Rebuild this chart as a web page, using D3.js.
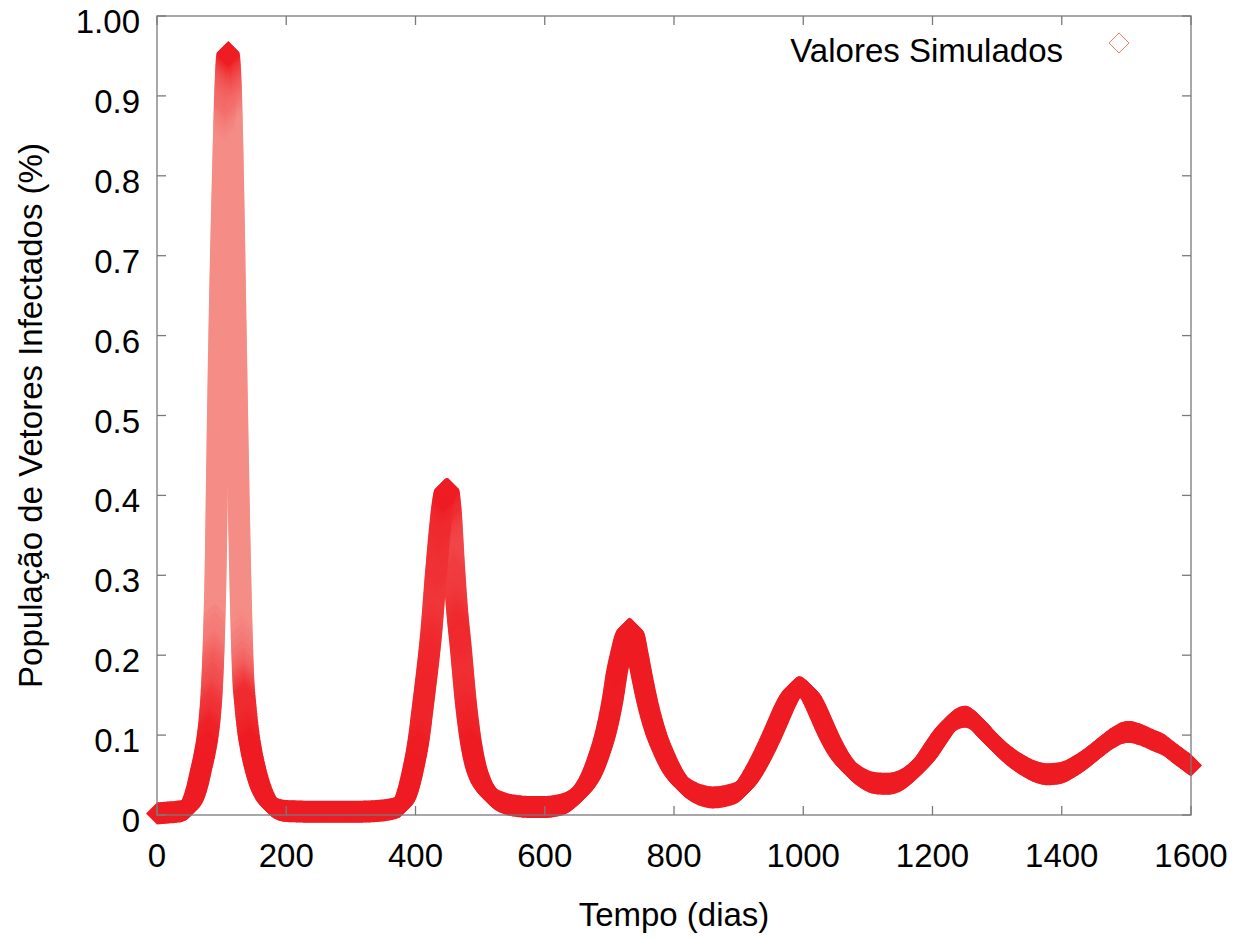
<!DOCTYPE html>
<meta charset="utf-8">
<title>Vetores Infectados</title>
<style>
html, body {
  margin: 0;
  padding: 0;
  background: #fff;
}
svg {
  display: block;
}
text {
  font-family: "Liberation Sans", Arial, sans-serif;
  font-size: 33px;
  fill: #000;
}
.frame line, .frame rect {
  stroke: #7a7a7a;
  stroke-width: 1.3;
  fill: none;
}
</style>
<body>
<svg width="1245" height="940"></svg>
<script src="https://d3js.org/d3.v7.min.js"></script>
<script>

// values (time in days, infected fraction)
var tempo = [
  0, 15, 30, 42, 50, 56, 62, 68, 74, 78, 82, 85, 88, 91, 93, 96, 99, 102, 105, 108,
  110, 112, 115, 118, 121, 124, 127, 130, 133, 137, 141, 146, 152, 160, 170, 182, 200,
  250, 300, 340, 360, 376, 386, 396, 405, 412, 418, 424, 432, 438, 443, 447, 450,
  454, 460, 464, 470, 478, 485, 492, 500, 510, 522, 540, 560, 580, 600, 620, 635,
  648, 660, 672, 684, 695, 705, 712, 719, 725, 731, 737, 743, 750, 758, 771, 784,
  798, 812, 830, 845, 860, 880, 900, 912, 924, 936, 948, 960, 972, 983, 994, 1003,
  1010, 1018, 1028, 1039, 1055, 1073, 1090, 1110, 1130, 1150, 1170, 1190, 1205, 1223, 1240, 1251,
  1265, 1280, 1297, 1317, 1340, 1360, 1378, 1400, 1420, 1440, 1460, 1480, 1495, 1505,
  1520, 1540, 1557, 1575, 1590, 1600
];
var infectados = [
  0.002, 0.003, 0.004, 0.006, 0.011, 0.02, 0.035, 0.056, 0.078, 0.097, 0.125, 0.16, 0.22, 0.32, 0.43, 0.58, 0.70, 0.80, 0.89, 0.945,
  0.955, 0.945, 0.89, 0.78, 0.64, 0.50, 0.37, 0.26, 0.18, 0.135, 0.105, 0.08, 0.058, 0.036, 0.019, 0.009, 0.005,
  0.004, 0.004, 0.005, 0.007, 0.011, 0.025, 0.056, 0.095, 0.14, 0.18, 0.225, 0.306, 0.36, 0.395, 0.408, 0.408,
  0.385, 0.306, 0.26, 0.21, 0.14, 0.095, 0.065, 0.045, 0.031, 0.021, 0.014, 0.011, 0.010, 0.010, 0.012, 0.016,
  0.024, 0.034, 0.05, 0.075, 0.105, 0.144, 0.18, 0.206, 0.225, 0.233, 0.228, 0.205, 0.175, 0.144, 0.105, 0.078,
  0.055, 0.04, 0.029, 0.024, 0.022, 0.024, 0.03, 0.04, 0.055, 0.073, 0.093, 0.115, 0.137, 0.153, 0.16, 0.156,
  0.15, 0.138, 0.12, 0.10, 0.076, 0.058, 0.047, 0.04, 0.039, 0.043, 0.055, 0.072, 0.09, 0.11, 0.121, 0.123,
  0.117, 0.104, 0.09, 0.075, 0.062, 0.054, 0.051, 0.053, 0.061, 0.072, 0.085, 0.097, 0.103, 0.104,
  0.101, 0.094, 0.088, 0.077, 0.068, 0.062
];

var xTicks = [0, 200, 400, 600, 800, 1000, 1200, 1400, 1600];
var yTicks = [0, 0.1, 0.2, 0.3, 0.4, 0.5, 0.6, 0.7, 0.8, 0.9, 1.0];
var yTickLabels = ["0", "0.1", "0.2", "0.3", "0.4", "0.5", "0.6", "0.7", "0.8", "0.9", "1.00"];

var legendLabel = "Valores Simulados",
    xTitle = "Tempo (dias)",
    yTitle = "População de Vetores Infectados (%)";

var svg = d3.select("svg");

var plot = {left: 157, right: 1191, top: 16, bottom: 815};

var x = d3.scaleLinear().domain([0, 1600]).range([plot.left, plot.right]);
var y = d3.scaleLinear().domain([0, 1]).range([plot.bottom, plot.top]);

var red = "#ee1d23",
    pink = "#f58d87",
    half = 11,      // half diagonal of a diamond marker
    tickLen = 9;

function diamond(p, h) {
  h = h || half;
  return [[p[0] - h, p[1]], [p[0], p[1] - h], [p[0] + h, p[1]], [p[0], p[1] + h]];
}

// smooth curve through the data, then swept with the diamond marker
var line = d3.line()
    .x(function(d, i) { return x(tempo[i]); })
    .y(function(d) { return y(d); })
    .curve(d3.curveMonotoneX);

var guide = svg.append("path")
    .attr("d", line(infectados))
    .attr("fill", "none")
    .attr("stroke", "none");

var node = guide.node(),
    total = node.getTotalLength(),
    samples = [];
for (var s = 0; s <= total; s += 1.5) {
  var pt = node.getPointAtLength(s);
  samples.push([pt.x, pt.y]);
}
var last = node.getPointAtLength(total);
samples.push([last.x, last.y]);

// steep pieces are lighter, like the sparse markers of the original
var segs = d3.pairs(samples).map(function(pair) {
  var dx = Math.abs(pair[1][0] - pair[0][0]),
      dy = Math.abs(pair[1][1] - pair[0][1]),
      slope = dy / Math.max(dx, 0.001),
      k = Math.max(0, Math.min(1, (slope - 6) / 32));
  return {hull: d3.polygonHull(diamond(pair[0]).concat(diamond(pair[1]))), k: k};
});
segs.sort(function(a, b) { return b.k - a.k; });

var shade = d3.interpolateRgb(red, pink);

svg.append("g")
    .attr("class", "curve")
  .selectAll("path")
  .data(segs)
  .enter().append("path")
    .attr("d", function(d) { return "M" + d.hull.join("L") + "Z"; })
    .attr("fill", function(d) { return shade(d.k); });

// frame with mirrored inward ticks
var frame = svg.append("g").attr("class", "frame");

frame.append("rect")
    .attr("x", plot.left)
    .attr("y", plot.top)
    .attr("width", plot.right - plot.left)
    .attr("height", plot.bottom - plot.top);

xTicks.forEach(function(t) {
  frame.append("line")
      .attr("x1", x(t)).attr("x2", x(t))
      .attr("y1", plot.bottom).attr("y2", plot.bottom - tickLen);
  frame.append("line")
      .attr("x1", x(t)).attr("x2", x(t))
      .attr("y1", plot.top).attr("y2", plot.top + tickLen);
});

yTicks.forEach(function(v) {
  frame.append("line")
      .attr("x1", plot.left).attr("x2", plot.left + tickLen)
      .attr("y1", y(v)).attr("y2", y(v));
  frame.append("line")
      .attr("x1", plot.right).attr("x2", plot.right - tickLen)
      .attr("y1", y(v)).attr("y2", y(v));
});

// tick labels
svg.append("g")
  .selectAll("text")
  .data(xTicks)
  .enter().append("text")
    .attr("x", function(d) { return x(d); })
    .attr("y", plot.bottom + 52)
    .attr("text-anchor", "middle")
    .text(function(d) { return d; });

svg.append("g")
  .selectAll("text")
  .data(yTicks)
  .enter().append("text")
    .attr("x", plot.left - 17)
    .attr("y", function(d) { return y(d) + 17; })
    .attr("text-anchor", "end")
    .text(function(d, i) { return yTickLabels[i]; });

// axis titles
svg.append("text")
    .attr("x", (plot.left + plot.right) / 2)
    .attr("y", 926)
    .attr("text-anchor", "middle")
    .text(xTitle);

svg.append("text")
    .attr("transform", "translate(42," + ((plot.top + plot.bottom) / 2) + ") rotate(-90)")
    .attr("text-anchor", "middle")
    .text(yTitle);

// legend
svg.append("text")
    .attr("x", 1063)
    .attr("y", 62)
    .attr("text-anchor", "end")
    .text(legendLabel);

svg.append("path")
    .attr("d", "M" + diamond([1119, 43], 10).join("L") + "Z")
    .attr("fill", "none")
    .attr("stroke", "#f08068")
    .attr("stroke-width", 1);

</script>
</body>
